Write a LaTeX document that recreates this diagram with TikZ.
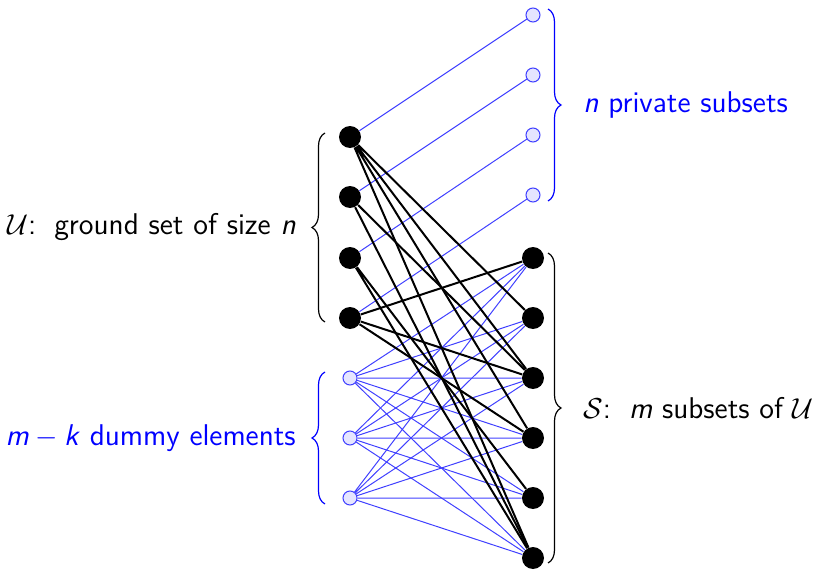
\documentclass[tikz,border=0pt]{standalone}
\usepackage{amsmath,amssymb}
\usepackage{xcolor}
\usepackage{tikz}
\usetikzlibrary{backgrounds,decorations.pathreplacing,calc}
\newcommand{\vname}[1]{\textit{#1}}
\tikzset{
  elem/.style={circle,fill=black,inner sep=0pt,minimum size=11pt},
  dummy/.style={circle,draw=blue!75,fill=blue!10,line width=0.5pt,
    inner sep=0pt,minimum size=7pt},
  blueedge/.style={blue!75,line width=0.5pt},
  setedge/.style={black,line width=1pt},
  grpbrace/.style={decorate,decoration={brace,amplitude=6.5pt},line width=0.6pt},
  grplabel/.style={font=\sffamily\fontsize{15}{18}\selectfont},
}

\begin{document}
\begin{tikzpicture}
\useasboundingbox (0,0) rectangle (408pt,-286.5pt);
% ground set and dummy elements
\node[elem] (u1) at (175pt,-68.5pt) {};
\node[elem] (u2) at (175pt,-98.5pt) {};
\node[elem] (u3) at (175pt,-129pt) {};
\node[elem] (u4) at (175pt,-159pt) {};
\node[dummy] (d1) at (175pt,-189pt) {};
\node[dummy] (d2) at (175pt,-219pt) {};
\node[dummy] (d3) at (175pt,-249pt) {};
% private subsets and subsets
\node[dummy] (p1) at (266.5pt,-7.5pt) {};
\node[dummy] (p2) at (266.5pt,-37.5pt) {};
\node[dummy] (p3) at (266.5pt,-67.5pt) {};
\node[dummy] (p4) at (266.5pt,-97.5pt) {};
\node[elem] (s1) at (266.5pt,-129pt) {};
\node[elem] (s2) at (266.5pt,-159pt) {};
\node[elem] (s3) at (266.5pt,-189pt) {};
\node[elem] (s4) at (266.5pt,-219pt) {};
\node[elem] (s5) at (266.5pt,-249pt) {};
\node[elem] (s6) at (266.5pt,-279pt) {};
\begin{scope}[on background layer]
\draw[blueedge] (u1) -- (p1) (u2) -- (p2) (u3) -- (p3) (u4) -- (p4);
\draw[blueedge] (d1) -- (s1) (d1) -- (s2) (d1) -- (s3) (d1) -- (s4) (d1) -- (s5) (d1) -- (s6);
\draw[blueedge] (d2) -- (s1) (d2) -- (s2) (d2) -- (s3) (d2) -- (s4) (d2) -- (s5) (d2) -- (s6);
\draw[blueedge] (d3) -- (s1) (d3) -- (s2) (d3) -- (s3) (d3) -- (s4) (d3) -- (s5) (d3) -- (s6);
\draw[setedge] (u1) -- (s2) (u1) -- (s3) (u1) -- (s4) (u1) -- (s6);
\draw[setedge] (u2) -- (s3) (u2) -- (s6);
\draw[setedge] (u3) -- (s5) (u3) -- (s6);
\draw[setedge] (u4) -- (s1) (u4) -- (s3) (u4) -- (s4);
\end{scope}
% braces
\draw[grpbrace] ([xshift=-12.5pt,yshift=-2pt]u4.center) -- ([xshift=-12.5pt,yshift=2pt]u1.center)
  node[grplabel,midway,left=11pt] {$\mathcal{U}$:\, ground set of size \vname{n}};
\draw[grpbrace,blue] ([xshift=-12.5pt,yshift=-3pt]d3.center) -- ([xshift=-12.5pt,yshift=3pt]d1.center)
  node[grplabel,midway,left=11pt] {\vname{m}${}-{}$\vname{k} dummy elements};
\draw[grpbrace,blue] ([xshift=7.5pt,yshift=3pt]p1.center) -- ([xshift=7.5pt,yshift=-3pt]p4.center)
  node[grplabel,midway,right=14pt] {\vname{n} private subsets};
\draw[grpbrace] ([xshift=7.5pt,yshift=2.5pt]s1.center) -- ([xshift=7.5pt,yshift=-2.5pt]s6.center)
  node[grplabel,midway,right=14pt] {$\mathcal{S}$:\, \vname{m} subsets of $\mathcal{U}$};
\end{tikzpicture}
\end{document}
